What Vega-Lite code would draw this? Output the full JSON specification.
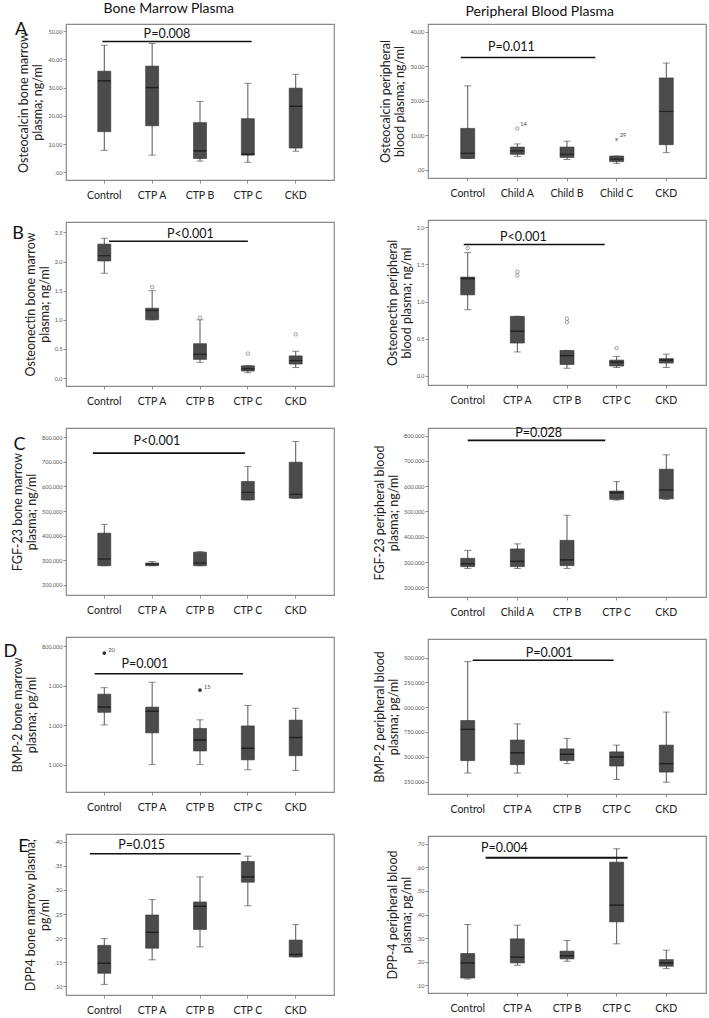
{
"$schema": "https://vega.github.io/schema/vega-lite/v6.json",
"background": "white",
"padding": {"left": 2, "top": 2, "right": 2, "bottom": 2},
"config": {
  "font": "Lato",
  "view": {"stroke": "#8a8a8a", "strokeWidth": 1.2},
  "axis": {"grid": false, "domain": false, "tickSize": 3, "tickColor": "#777", "tickWidth": 0.8, "titleFontWeight": "normal", "titleColor": "#222"},
  "axisX": {"labelFontSize": 10.5, "labelColor": "#222", "labelAngle": 0, "labelPadding": 7},
  "axisY": {"labelFontSize": 5.5, "labelColor": "#555", "labelPadding": 1, "labelOverlap": false, "tickCount": 20, "titleFontSize": 12.5, "titleLineHeight": 14, "titlePadding": 3},
  "title": {"fontWeight": "normal", "color": "#111"}
},
"datasets": {
  "boxes": [
    {"panel":"A1","group":"Control","min":7.8,"q1":14.4,"median":32.4,"q3":35.8,"max":45.0},
    {"panel":"A1","group":"CTP A","min":6.1,"q1":16.5,"median":30.0,"q3":37.6,"max":45.6},
    {"panel":"A1","group":"CTP B","min":4.0,"q1":4.9,"median":7.6,"q3":17.6,"max":25.1},
    {"panel":"A1","group":"CTP C","min":3.6,"q1":6.1,"median":6.4,"q3":19.0,"max":31.5},
    {"panel":"A1","group":"CKD","min":7.5,"q1":8.6,"median":23.4,"q3":29.8,"max":34.7},
    {"panel":"A2","group":"Control","min":3.3,"q1":3.3,"median":4.8,"q3":12.0,"max":24.3},
    {"panel":"A2","group":"Child A","min":3.9,"q1":4.5,"median":5.5,"q3":6.6,"max":7.5},
    {"panel":"A2","group":"Child B","min":3.0,"q1":3.6,"median":4.5,"q3":6.6,"max":8.3},
    {"panel":"A2","group":"Child C","min":1.9,"q1":2.4,"median":3.1,"q3":4.0,"max":4.0},
    {"panel":"A2","group":"CKD","min":5.0,"q1":7.3,"median":16.9,"q3":26.6,"max":30.9},
    {"panel":"B1","group":"Control","min":1.80,"q1":2.01,"median":2.10,"q3":2.30,"max":2.40},
    {"panel":"B1","group":"CTP A","min":1.00,"q1":1.00,"median":1.16,"q3":1.20,"max":1.50},
    {"panel":"B1","group":"CTP B","min":0.27,"q1":0.32,"median":0.41,"q3":0.59,"max":1.00},
    {"panel":"B1","group":"CTP C","min":0.09,"q1":0.12,"median":0.16,"q3":0.21,"max":0.21},
    {"panel":"B1","group":"CKD","min":0.18,"q1":0.24,"median":0.30,"q3":0.38,"max":0.46},
    {"panel":"B2","group":"Control","min":0.89,"q1":1.09,"median":1.31,"q3":1.33,"max":1.66},
    {"panel":"B2","group":"CTP A","min":0.32,"q1":0.44,"median":0.60,"q3":0.80,"max":0.80},
    {"panel":"B2","group":"CTP B","min":0.10,"q1":0.15,"median":0.27,"q3":0.34,"max":0.34},
    {"panel":"B2","group":"CTP C","min":0.11,"q1":0.13,"median":0.18,"q3":0.21,"max":0.26},
    {"panel":"B2","group":"CKD","min":0.11,"q1":0.17,"median":0.21,"q3":0.23,"max":0.29},
    {"panel":"C1","group":"Control","min":278,"q1":278,"median":305,"q3":410,"max":446},
    {"panel":"C1","group":"CTP  A","min":278,"q1":278,"median":284,"q3":289,"max":295},
    {"panel":"C1","group":"CTP B","min":278,"q1":278,"median":289,"q3":333,"max":335},
    {"panel":"C1","group":"CTP C","min":545,"q1":545,"median":576,"q3":620,"max":681},
    {"panel":"C1","group":"CKD","min":552,"q1":552,"median":568,"q3":698,"max":782},
    {"panel":"C2","group":"Control","min":275,"q1":282,"median":293,"q3":315,"max":346},
    {"panel":"C2","group":"Child A","min":275,"q1":282,"median":303,"q3":352,"max":372},
    {"panel":"C2","group":"CTP B","min":275,"q1":286,"median":309,"q3":386,"max":485},
    {"panel":"C2","group":"CTP C","min":545,"q1":548,"median":574,"q3":581,"max":618},
    {"panel":"C2","group":"CKD","min":548,"q1":550,"median":585,"q3":667,"max":724},
    {"panel":"D1","group":"Control","min":1002,"q1":1130,"median":1183,"q3":1314,"max":1380},
    {"panel":"D1","group":"CTP A","min":600,"q1":922,"median":1141,"q3":1183,"max":1436},
    {"panel":"D1","group":"CTP B","min":600,"q1":738,"median":849,"q3":967,"max":1054},
    {"panel":"D1","group":"CTP C","min":548,"q1":648,"median":766,"q3":992,"max":1200},
    {"panel":"D1","group":"CKD","min":541,"q1":690,"median":874,"q3":1051,"max":1172},
    {"panel":"D2","group":"Control","min":335,"q1":461,"median":776,"q3":865,"max":1459},
    {"panel":"D2","group":"CTP A","min":335,"q1":420,"median":539,"q3":668,"max":831},
    {"panel":"D2","group":"CTP B","min":430,"q1":461,"median":525,"q3":579,"max":685},
    {"panel":"D2","group":"CTP C","min":270,"q1":406,"median":498,"q3":549,"max":617},
    {"panel":"D2","group":"CKD","min":243,"q1":345,"median":430,"q3":617,"max":950},
    {"panel":"E1","group":"Control","min":0.104,"q1":0.127,"median":0.148,"q3":0.185,"max":0.199},
    {"panel":"E1","group":"CTP A","min":0.155,"q1":0.179,"median":0.212,"q3":0.248,"max":0.280},
    {"panel":"E1","group":"CTP B","min":0.182,"q1":0.218,"median":0.266,"q3":0.275,"max":0.327},
    {"panel":"E1","group":"CTP C","min":0.267,"q1":0.316,"median":0.327,"q3":0.359,"max":0.370},
    {"panel":"E1","group":"CKD","min":0.161,"q1":0.161,"median":0.166,"q3":0.196,"max":0.228},
    {"panel":"E2","group":"Control","min":0.127,"q1":0.131,"median":0.195,"q3":0.235,"max":0.358},
    {"panel":"E2","group":"CTP A","min":0.185,"q1":0.195,"median":0.219,"q3":0.297,"max":0.355},
    {"panel":"E2","group":"CTP B","min":0.202,"q1":0.212,"median":0.225,"q3":0.245,"max":0.290},
    {"panel":"E2","group":"CTP C","min":0.276,"q1":0.369,"median":0.440,"q3":0.622,"max":0.679},
    {"panel":"E2","group":"CKD","min":0.171,"q1":0.181,"median":0.195,"q3":0.209,"max":0.249}
  ],
  "outliers": [
    {"panel":"A2","group":"Child A","value":12.0,"kind":"outlier","case":"14"},
    {"panel":"A2","group":"Child C","value":8.8,"kind":"extreme","case":"29"},
    {"panel":"B1","group":"CTP A","value":1.56,"kind":"outlier","case":""},
    {"panel":"B1","group":"CTP B","value":1.04,"kind":"outlier","case":""},
    {"panel":"B1","group":"CTP C","value":0.42,"kind":"outlier","case":""},
    {"panel":"B1","group":"CKD","value":0.75,"kind":"outlier","case":""},
    {"panel":"B2","group":"Control","value":1.72,"kind":"outlier","case":""},
    {"panel":"B2","group":"CTP A","value":1.40,"kind":"outlier","case":""},
    {"panel":"B2","group":"CTP A","value":1.35,"kind":"outlier","case":""},
    {"panel":"B2","group":"CTP B","value":0.77,"kind":"outlier","case":""},
    {"panel":"B2","group":"CTP B","value":0.72,"kind":"outlier","case":""},
    {"panel":"B2","group":"CTP C","value":0.37,"kind":"outlier","case":""},
    {"panel":"D1","group":"Control","value":1731,"kind":"outlier","case":"20"},
    {"panel":"D1","group":"CTP B","value":1356,"kind":"outlier","case":"15"}
  ],
  "pvals": [
    {"panel":"A1","start":"Control","end":"CTP C","at":"CTP A","y":46.3,"label":"P=0.008"},
    {"panel":"A2","start":"Control","end":"Child C","at":"Child A","y":32.5,"label":"P=0.011"},
    {"panel":"B1","start":"Control","end":"CTP C","at":"CTP B","y":2.35,"label":"P<0.001"},
    {"panel":"B2","start":"Control","end":"CTP C","at":"CTP A","y":1.77,"label":"P<0.001"},
    {"panel":"C1","start":"Control","end":"CTP C","at":"CTP  A","y":735,"label":"P<0.001"},
    {"panel":"C2","start":"Control","end":"CTP C","at":"Child A","y":781,"label":"P=0.028"},
    {"panel":"D1","start":"Control","end":"CTP C","at":"CTP A","y":1522,"label":"P=0.001"},
    {"panel":"D2","start":"Control","end":"CTP C","at":"CTP B","y":1473,"label":"P=0.001"},
    {"panel":"E1","start":"Control","end":"CTP C","at":"CTP A","y":0.375,"label":"P=0.015"},
    {"panel":"E2","start":"Control","end":"CTP C","at":"CTP A","y":0.641,"label":"P=0.004"}
  ]
},
"spacing": 37,
"hconcat": [
{
  "title": {"text": "Bone Marrow Plasma", "fontSize": 14, "anchor": "middle", "frame": "bounds", "offset": 4},
  "spacing": 19,
  "vconcat": [
    {
      "width": 268, "height": 156,
      "title": {"text": "A", "anchor": "start", "frame": "bounds", "fontSize": 18, "offset": -15, "dx": -3},
      "encoding": {"x": {"field": "group", "type": "nominal", "sort": null, "title": null, "scale": {"domain": ["Control","CTP A","CTP B","CTP C","CKD"], "paddingInner": 0, "paddingOuter": 0.3}}},
      "layer": [
        {"data": {"name": "boxes"}, "transform": [{"filter": "datum.panel == 'A1'"}], "mark": {"type": "rule", "color": "#555"},
         "encoding": {"y": {"field": "min", "type": "quantitative", "title": ["Osteocalcin  bone marrow", "plasma; ng/ml"], "scale": {"domain": [-2.7, 52.5], "nice": false, "zero": false}, "axis": {"values": [0,10,20,30,40,50], "tickCount": 20, "labelOverlap": false, "labelExpr": "datum.value == 0 ? '.00' : format(datum.value, '.2f')"}}, "y2": {"field": "max"}}},
        {"data": {"name": "boxes"}, "transform": [{"filter": "datum.panel == 'A1'"}], "mark": {"type": "tick", "color": "#555", "size": 7, "thickness": 1}, "encoding": {"y": {"field": "min", "type": "quantitative"}}},
        {"data": {"name": "boxes"}, "transform": [{"filter": "datum.panel == 'A1'"}], "mark": {"type": "tick", "color": "#555", "size": 7, "thickness": 1}, "encoding": {"y": {"field": "max", "type": "quantitative"}}},
        {"data": {"name": "boxes"}, "transform": [{"filter": "datum.panel == 'A1'"}], "mark": {"type": "bar", "width": 13, "fill": "#4b4b4b", "stroke": "#333", "strokeWidth": 0.6}, "encoding": {"y": {"field": "q1", "type": "quantitative"}, "y2": {"field": "q3"}}},
        {"data": {"name": "boxes"}, "transform": [{"filter": "datum.panel == 'A1'"}], "mark": {"type": "tick", "color": "#111", "size": 13, "thickness": 1.5}, "encoding": {"y": {"field": "median", "type": "quantitative"}}},
        {"data": {"name": "pvals"}, "transform": [{"filter": "datum.panel == 'A1'"}], "mark": {"type": "rule", "color": "#111", "strokeWidth": 1.6}, "encoding": {"x": {"field": "start", "type": "nominal", "title": null, "bandPosition": 0.46}, "x2": {"field": "end", "bandPosition": 0.58}, "y": {"field": "y", "type": "quantitative"}}},
        {"data": {"name": "pvals"}, "transform": [{"filter": "datum.panel == 'A1'"}], "mark": {"type": "text", "fontSize": 12.5, "baseline": "alphabetic", "dy": -4, "color": "#111"}, "encoding": {"x": {"field": "at", "type": "nominal", "title": null, "bandPosition": 0.81}, "y": {"field": "y", "type": "quantitative"}, "text": {"field": "label"}}}
      ]
    },
    {
      "width": 268, "height": 164,
      "title": {"text": "B", "anchor": "start", "frame": "bounds", "fontSize": 18, "offset": -21, "dx": -12},
      "encoding": {"x": {"field": "group", "type": "nominal", "sort": null, "title": null, "scale": {"domain": ["Control","CTP A","CTP B","CTP C","CKD"], "paddingInner": 0, "paddingOuter": 0.3}}},
      "layer": [
        {"data": {"name": "boxes"}, "transform": [{"filter": "datum.panel == 'B1'"}], "mark": {"type": "rule", "color": "#555"},
         "encoding": {"y": {"field": "min", "type": "quantitative", "title": ["Osteonectin bone marrow", "plasma; ng/ml"], "scale": {"domain": [-0.137, 2.68], "nice": false, "zero": false}, "axis": {"values": [0,0.5,1,1.5,2,2.5], "tickCount": 20, "labelOverlap": false, "labelExpr": "format(datum.value, '.1f')"}}, "y2": {"field": "max"}}},
        {"data": {"name": "boxes"}, "transform": [{"filter": "datum.panel == 'B1'"}], "mark": {"type": "tick", "color": "#555", "size": 7, "thickness": 1}, "encoding": {"y": {"field": "min", "type": "quantitative"}}},
        {"data": {"name": "boxes"}, "transform": [{"filter": "datum.panel == 'B1'"}], "mark": {"type": "tick", "color": "#555", "size": 7, "thickness": 1}, "encoding": {"y": {"field": "max", "type": "quantitative"}}},
        {"data": {"name": "boxes"}, "transform": [{"filter": "datum.panel == 'B1'"}], "mark": {"type": "bar", "width": 13, "fill": "#4b4b4b", "stroke": "#333", "strokeWidth": 0.6}, "encoding": {"y": {"field": "q1", "type": "quantitative"}, "y2": {"field": "q3"}}},
        {"data": {"name": "boxes"}, "transform": [{"filter": "datum.panel == 'B1'"}], "mark": {"type": "tick", "color": "#111", "size": 13, "thickness": 1.2}, "encoding": {"y": {"field": "median", "type": "quantitative"}}},
        {"data": {"name": "outliers"}, "transform": [{"filter": "datum.panel == 'B1'"}], "mark": {"type": "point", "size": 12, "filled": false, "stroke": "#555", "strokeWidth": 0.8}, "encoding": {"y": {"field": "value", "type": "quantitative"}}},
        {"data": {"name": "pvals"}, "transform": [{"filter": "datum.panel == 'B1'"}], "mark": {"type": "rule", "color": "#111", "strokeWidth": 1.6}, "encoding": {"x": {"field": "start", "type": "nominal", "title": null, "bandPosition": 0.6}, "x2": {"field": "end", "bandPosition": 0.5}, "y": {"field": "y", "type": "quantitative"}}},
        {"data": {"name": "pvals"}, "transform": [{"filter": "datum.panel == 'B1'"}], "mark": {"type": "text", "fontSize": 12.5, "baseline": "alphabetic", "dy": -3, "color": "#111"}, "encoding": {"x": {"field": "at", "type": "nominal", "title": null, "bandPosition": 0.3}, "y": {"field": "y", "type": "quantitative"}, "text": {"field": "label"}}}
      ]
    },
    {
      "width": 268, "height": 167,
      "title": {"text": "C", "anchor": "start", "frame": "bounds", "fontSize": 18, "offset": -26, "dx": 2},
      "encoding": {"x": {"field": "group", "type": "nominal", "sort": null, "title": null, "scale": {"domain": ["Control","CTP  A","CTP B","CTP C","CKD"], "paddingInner": 0, "paddingOuter": 0.3}}},
      "layer": [
        {"data": {"name": "boxes"}, "transform": [{"filter": "datum.panel == 'C1'"}], "mark": {"type": "rule", "color": "#555"},
         "encoding": {"y": {"field": "min", "type": "quantitative", "title": ["FGF-23 bone marrow", "plasma; ng/ml"], "scale": {"domain": [159, 837], "nice": false, "zero": false}, "axis": {"values": [200,300,400,500,600,700,800], "tickCount": 20, "labelOverlap": false, "labelExpr": "format(datum.value, '.3f')"}}, "y2": {"field": "max"}}},
        {"data": {"name": "boxes"}, "transform": [{"filter": "datum.panel == 'C1'"}], "mark": {"type": "tick", "color": "#555", "size": 7, "thickness": 1}, "encoding": {"y": {"field": "min", "type": "quantitative"}}},
        {"data": {"name": "boxes"}, "transform": [{"filter": "datum.panel == 'C1'"}], "mark": {"type": "tick", "color": "#555", "size": 7, "thickness": 1}, "encoding": {"y": {"field": "max", "type": "quantitative"}}},
        {"data": {"name": "boxes"}, "transform": [{"filter": "datum.panel == 'C1'"}], "mark": {"type": "bar", "width": 13, "fill": "#4b4b4b", "stroke": "#333", "strokeWidth": 0.6}, "encoding": {"y": {"field": "q1", "type": "quantitative"}, "y2": {"field": "q3"}}},
        {"data": {"name": "boxes"}, "transform": [{"filter": "datum.panel == 'C1'"}], "mark": {"type": "tick", "color": "#111", "size": 13, "thickness": 1.2}, "encoding": {"y": {"field": "median", "type": "quantitative"}}},
        {"data": {"name": "pvals"}, "transform": [{"filter": "datum.panel == 'C1'"}], "mark": {"type": "rule", "color": "#111", "strokeWidth": 1.6}, "encoding": {"x": {"field": "start", "type": "nominal", "title": null, "bandPosition": 0.26}, "x2": {"field": "end", "bandPosition": 0.44}, "y": {"field": "y", "type": "quantitative"}}},
        {"data": {"name": "pvals"}, "transform": [{"filter": "datum.panel == 'C1'"}], "mark": {"type": "text", "fontSize": 12.5, "baseline": "alphabetic", "dy": -8, "color": "#111"}, "encoding": {"x": {"field": "at", "type": "nominal", "title": null, "bandPosition": 0.6}, "y": {"field": "y", "type": "quantitative"}, "text": {"field": "label"}}}
      ]
    },
    {
      "width": 268, "height": 155,
      "title": {"text": "D", "anchor": "start", "frame": "bounds", "fontSize": 18, "offset": -24, "dx": -8},
      "encoding": {"x": {"field": "group", "type": "nominal", "sort": null, "title": null, "scale": {"domain": ["Control","CTP A","CTP B","CTP C","CKD"], "paddingInner": 0, "paddingOuter": 0.3}}},
      "layer": [
        {"data": {"name": "boxes"}, "transform": [{"filter": "datum.panel == 'D1'"}], "mark": {"type": "rule", "color": "#555"},
         "encoding": {"y": {"field": "min", "type": "quantitative", "title": ["BMP-2 bone marrow", "plasma; pg/ml"], "scale": {"domain": [322, 1894], "nice": false, "zero": false}, "axis": {"values": [600,1000,1400,1800], "tickCount": 20, "labelOverlap": false, "labelExpr": "datum.value == 1800 ? '800.000' : '1.000'"}}, "y2": {"field": "max"}}},
        {"data": {"name": "boxes"}, "transform": [{"filter": "datum.panel == 'D1'"}], "mark": {"type": "tick", "color": "#555", "size": 7, "thickness": 1}, "encoding": {"y": {"field": "min", "type": "quantitative"}}},
        {"data": {"name": "boxes"}, "transform": [{"filter": "datum.panel == 'D1'"}], "mark": {"type": "tick", "color": "#555", "size": 7, "thickness": 1}, "encoding": {"y": {"field": "max", "type": "quantitative"}}},
        {"data": {"name": "boxes"}, "transform": [{"filter": "datum.panel == 'D1'"}], "mark": {"type": "bar", "width": 13, "fill": "#4b4b4b", "stroke": "#333", "strokeWidth": 0.6}, "encoding": {"y": {"field": "q1", "type": "quantitative"}, "y2": {"field": "q3"}}},
        {"data": {"name": "boxes"}, "transform": [{"filter": "datum.panel == 'D1'"}], "mark": {"type": "tick", "color": "#111", "size": 13, "thickness": 1.5}, "encoding": {"y": {"field": "median", "type": "quantitative"}}},
        {"data": {"name": "outliers"}, "transform": [{"filter": "datum.panel == 'D1'"}], "mark": {"type": "point", "size": 14, "filled": true, "color": "#333", "opacity": 1}, "encoding": {"y": {"field": "value", "type": "quantitative"}}},
        {"data": {"name": "outliers"}, "transform": [{"filter": "datum.panel == 'D1'"}], "mark": {"type": "text", "fontSize": 5.5, "align": "left", "dx": 4, "dy": -3, "color": "#444"}, "encoding": {"y": {"field": "value", "type": "quantitative"}, "text": {"field": "case"}}},
        {"data": {"name": "pvals"}, "transform": [{"filter": "datum.panel == 'D1'"}], "mark": {"type": "rule", "color": "#111", "strokeWidth": 1.6}, "encoding": {"x": {"field": "start", "type": "nominal", "title": null, "bandPosition": 0.3}, "x2": {"field": "end", "bandPosition": 0.4}, "y": {"field": "y", "type": "quantitative"}}},
        {"data": {"name": "pvals"}, "transform": [{"filter": "datum.panel == 'D1'"}], "mark": {"type": "text", "fontSize": 12.5, "baseline": "alphabetic", "dy": -6, "color": "#111"}, "encoding": {"x": {"field": "at", "type": "nominal", "title": null, "bandPosition": 0.35}, "y": {"field": "y", "type": "quantitative"}, "text": {"field": "label"}}}
      ]
    },
    {
      "width": 268, "height": 161,
      "title": {"text": "E", "anchor": "start", "frame": "bounds", "fontSize": 18, "offset": -22, "dx": -6},
      "encoding": {"x": {"field": "group", "type": "nominal", "sort": null, "title": null, "scale": {"domain": ["Control","CTP A","CTP B","CTP C","CKD"], "paddingInner": 0, "paddingOuter": 0.3}}},
      "layer": [
        {"data": {"name": "boxes"}, "transform": [{"filter": "datum.panel == 'E1'"}], "mark": {"type": "rule", "color": "#555"},
         "encoding": {"y": {"field": "min", "type": "quantitative", "title": ["DPP4  bone marrow plasma;", "pg/ml"], "scale": {"domain": [0.082, 0.416], "nice": false, "zero": false}, "axis": {"values": [0.1,0.15,0.2,0.25,0.3,0.35,0.4], "tickCount": 20, "labelOverlap": false, "labelExpr": "substring(format(datum.value, '.2f'), 1)"}}, "y2": {"field": "max"}}},
        {"data": {"name": "boxes"}, "transform": [{"filter": "datum.panel == 'E1'"}], "mark": {"type": "tick", "color": "#555", "size": 7, "thickness": 1}, "encoding": {"y": {"field": "min", "type": "quantitative"}}},
        {"data": {"name": "boxes"}, "transform": [{"filter": "datum.panel == 'E1'"}], "mark": {"type": "tick", "color": "#555", "size": 7, "thickness": 1}, "encoding": {"y": {"field": "max", "type": "quantitative"}}},
        {"data": {"name": "boxes"}, "transform": [{"filter": "datum.panel == 'E1'"}], "mark": {"type": "bar", "width": 13, "fill": "#4b4b4b", "stroke": "#333", "strokeWidth": 0.6}, "encoding": {"y": {"field": "q1", "type": "quantitative"}, "y2": {"field": "q3"}}},
        {"data": {"name": "boxes"}, "transform": [{"filter": "datum.panel == 'E1'"}], "mark": {"type": "tick", "color": "#111", "size": 13, "thickness": 1.5}, "encoding": {"y": {"field": "median", "type": "quantitative"}}},
        {"data": {"name": "pvals"}, "transform": [{"filter": "datum.panel == 'E1'"}], "mark": {"type": "rule", "color": "#111", "strokeWidth": 1.6}, "encoding": {"x": {"field": "start", "type": "nominal", "title": null, "bandPosition": 0.2}, "x2": {"field": "end", "bandPosition": 0.35}, "y": {"field": "y", "type": "quantitative"}}},
        {"data": {"name": "pvals"}, "transform": [{"filter": "datum.panel == 'E1'"}], "mark": {"type": "text", "fontSize": 12.5, "baseline": "alphabetic", "dy": -5, "color": "#111"}, "encoding": {"x": {"field": "at", "type": "nominal", "title": null, "bandPosition": 0.28}, "y": {"field": "y", "type": "quantitative"}, "text": {"field": "label"}}}
      ]
    }
  ]
},
{
  "title": {"text": "Peripheral Blood Plasma", "fontSize": 14, "anchor": "middle", "frame": "bounds", "offset": 4},
  "spacing": 19,
  "vconcat": [
    {
      "width": 278, "height": 154,
      "encoding": {"x": {"field": "group", "type": "nominal", "sort": null, "title": null, "scale": {"domain": ["Control","Child A","Child B","Child C","CKD"], "paddingInner": 0, "paddingOuter": 0.3}}},
      "layer": [
        {"data": {"name": "boxes"}, "transform": [{"filter": "datum.panel == 'A2'"}], "mark": {"type": "rule", "color": "#555"},
         "encoding": {"y": {"field": "min", "type": "quantitative", "title": ["Osteocalcin  peripheral", "blood  plasma; ng/ml"], "scale": {"domain": [-2.35, 42.2], "nice": false, "zero": false}, "axis": {"values": [0,10,20,30,40], "tickCount": 20, "labelOverlap": false, "labelExpr": "datum.value == 0 ? '.00' : format(datum.value, '.2f')"}}, "y2": {"field": "max"}}},
        {"data": {"name": "boxes"}, "transform": [{"filter": "datum.panel == 'A2'"}], "mark": {"type": "tick", "color": "#555", "size": 7, "thickness": 1}, "encoding": {"y": {"field": "min", "type": "quantitative"}}},
        {"data": {"name": "boxes"}, "transform": [{"filter": "datum.panel == 'A2'"}], "mark": {"type": "tick", "color": "#555", "size": 7, "thickness": 1}, "encoding": {"y": {"field": "max", "type": "quantitative"}}},
        {"data": {"name": "boxes"}, "transform": [{"filter": "datum.panel == 'A2'"}], "mark": {"type": "bar", "width": 14, "fill": "#4b4b4b", "stroke": "#333", "strokeWidth": 0.6}, "encoding": {"y": {"field": "q1", "type": "quantitative"}, "y2": {"field": "q3"}}},
        {"data": {"name": "boxes"}, "transform": [{"filter": "datum.panel == 'A2'"}], "mark": {"type": "tick", "color": "#111", "size": 14, "thickness": 1.2}, "encoding": {"y": {"field": "median", "type": "quantitative"}}},
        {"data": {"name": "outliers"}, "transform": [{"filter": "datum.panel == 'A2'"}], "mark": {"type": "point", "size": 12, "filled": false, "stroke": "#555", "strokeWidth": 0.8}, "encoding": {"y": {"field": "value", "type": "quantitative"}, "shape": {"field": "kind", "type": "nominal", "legend": null, "scale": {"domain": ["outlier", "extreme"], "range": ["circle", "M0,-1L0,1M-0.87,-0.5L0.87,0.5M-0.87,0.5L0.87,-0.5"]}}}},
        {"data": {"name": "outliers"}, "transform": [{"filter": "datum.panel == 'A2'"}], "mark": {"type": "text", "fontSize": 5.5, "align": "left", "dx": 3, "dy": -4, "color": "#444"}, "encoding": {"y": {"field": "value", "type": "quantitative"}, "text": {"field": "case"}}},
        {"data": {"name": "pvals"}, "transform": [{"filter": "datum.panel == 'A2'"}], "mark": {"type": "rule", "color": "#111", "strokeWidth": 1.6}, "encoding": {"x": {"field": "start", "type": "nominal", "title": null, "bandPosition": 0.36}, "x2": {"field": "end", "bandPosition": 0.07}, "y": {"field": "y", "type": "quantitative"}}},
        {"data": {"name": "pvals"}, "transform": [{"filter": "datum.panel == 'A2'"}], "mark": {"type": "text", "fontSize": 12.5, "baseline": "alphabetic", "dy": -7, "color": "#111"}, "encoding": {"x": {"field": "at", "type": "nominal", "title": null, "bandPosition": 0.38}, "y": {"field": "y", "type": "quantitative"}, "text": {"field": "label"}}}
      ]
    },
    {
      "width": 278, "height": 165,
      "encoding": {"x": {"field": "group", "type": "nominal", "sort": null, "title": null, "scale": {"domain": ["Control","CTP A","CTP B","CTP C","CKD"], "paddingInner": 0, "paddingOuter": 0.3}}},
      "layer": [
        {"data": {"name": "boxes"}, "transform": [{"filter": "datum.panel == 'B2'"}], "mark": {"type": "rule", "color": "#555"},
         "encoding": {"y": {"field": "min", "type": "quantitative", "title": ["Osteonectin peripheral", "blood  plasma; ng/ml"], "scale": {"domain": [-0.126, 2.10], "nice": false, "zero": false}, "axis": {"values": [0,0.5,1,1.5,2], "tickCount": 20, "labelOverlap": false, "labelExpr": "format(datum.value, '.1f')"}}, "y2": {"field": "max"}}},
        {"data": {"name": "boxes"}, "transform": [{"filter": "datum.panel == 'B2'"}], "mark": {"type": "tick", "color": "#555", "size": 7, "thickness": 1}, "encoding": {"y": {"field": "min", "type": "quantitative"}}},
        {"data": {"name": "boxes"}, "transform": [{"filter": "datum.panel == 'B2'"}], "mark": {"type": "tick", "color": "#555", "size": 7, "thickness": 1}, "encoding": {"y": {"field": "max", "type": "quantitative"}}},
        {"data": {"name": "boxes"}, "transform": [{"filter": "datum.panel == 'B2'"}], "mark": {"type": "bar", "width": 14, "fill": "#4b4b4b", "stroke": "#333", "strokeWidth": 0.6}, "encoding": {"y": {"field": "q1", "type": "quantitative"}, "y2": {"field": "q3"}}},
        {"data": {"name": "boxes"}, "transform": [{"filter": "datum.panel == 'B2'"}], "mark": {"type": "tick", "color": "#111", "size": 14, "thickness": 1.5}, "encoding": {"y": {"field": "median", "type": "quantitative"}}},
        {"data": {"name": "outliers"}, "transform": [{"filter": "datum.panel == 'B2'"}], "mark": {"type": "point", "size": 12, "filled": false, "stroke": "#555", "strokeWidth": 0.8}, "encoding": {"y": {"field": "value", "type": "quantitative"}}},
        {"data": {"name": "pvals"}, "transform": [{"filter": "datum.panel == 'B2'"}], "mark": {"type": "rule", "color": "#111", "strokeWidth": 1.6}, "encoding": {"x": {"field": "start", "type": "nominal", "title": null, "bandPosition": 0.42}, "x2": {"field": "end", "bandPosition": 0.26}, "y": {"field": "y", "type": "quantitative"}}},
        {"data": {"name": "pvals"}, "transform": [{"filter": "datum.panel == 'B2'"}], "mark": {"type": "text", "fontSize": 12.5, "baseline": "alphabetic", "dy": -3, "color": "#111"}, "encoding": {"x": {"field": "at", "type": "nominal", "title": null, "bandPosition": 0.62}, "y": {"field": "y", "type": "quantitative"}, "text": {"field": "label"}}}
      ]
    },
    {
      "width": 278, "height": 169,
      "encoding": {"x": {"field": "group", "type": "nominal", "sort": null, "title": null, "scale": {"domain": ["Control","Child A","CTP B","CTP C","CKD"], "paddingInner": 0, "paddingOuter": 0.3}}},
      "layer": [
        {"data": {"name": "boxes"}, "transform": [{"filter": "datum.panel == 'C2'"}], "mark": {"type": "rule", "color": "#555"},
         "encoding": {"y": {"field": "min", "type": "quantitative", "title": ["FGF-23  peripheral blood", "plasma; ng/ml"], "scale": {"domain": [162, 830], "nice": false, "zero": false}, "axis": {"values": [200,300,400,500,600,700,800], "tickCount": 20, "labelOverlap": false, "labelExpr": "format(datum.value, '.3f')"}}, "y2": {"field": "max"}}},
        {"data": {"name": "boxes"}, "transform": [{"filter": "datum.panel == 'C2'"}], "mark": {"type": "tick", "color": "#555", "size": 7, "thickness": 1}, "encoding": {"y": {"field": "min", "type": "quantitative"}}},
        {"data": {"name": "boxes"}, "transform": [{"filter": "datum.panel == 'C2'"}], "mark": {"type": "tick", "color": "#555", "size": 7, "thickness": 1}, "encoding": {"y": {"field": "max", "type": "quantitative"}}},
        {"data": {"name": "boxes"}, "transform": [{"filter": "datum.panel == 'C2'"}], "mark": {"type": "bar", "width": 14, "fill": "#4b4b4b", "stroke": "#333", "strokeWidth": 0.6}, "encoding": {"y": {"field": "q1", "type": "quantitative"}, "y2": {"field": "q3"}}},
        {"data": {"name": "boxes"}, "transform": [{"filter": "datum.panel == 'C2'"}], "mark": {"type": "tick", "color": "#111", "size": 14, "thickness": 1.5}, "encoding": {"y": {"field": "median", "type": "quantitative"}}},
        {"data": {"name": "pvals"}, "transform": [{"filter": "datum.panel == 'C2'"}], "mark": {"type": "rule", "color": "#111", "strokeWidth": 1.6}, "encoding": {"x": {"field": "start", "type": "nominal", "title": null, "bandPosition": 0.5}, "x2": {"field": "end", "bandPosition": 0.27}, "y": {"field": "y", "type": "quantitative"}}},
        {"data": {"name": "pvals"}, "transform": [{"filter": "datum.panel == 'C2'"}], "mark": {"type": "text", "fontSize": 12.5, "baseline": "alphabetic", "dy": -3, "color": "#111"}, "encoding": {"x": {"field": "at", "type": "nominal", "title": null, "bandPosition": 0.93}, "y": {"field": "y", "type": "quantitative"}, "text": {"field": "label"}}}
      ]
    },
    {
      "width": 278, "height": 155,
      "encoding": {"x": {"field": "group", "type": "nominal", "sort": null, "title": null, "scale": {"domain": ["Control","CTP A","CTP B","CTP C","CKD"], "paddingInner": 0, "paddingOuter": 0.3}}},
      "layer": [
        {"data": {"name": "boxes"}, "transform": [{"filter": "datum.panel == 'D2'"}], "mark": {"type": "rule", "color": "#555"},
         "encoding": {"y": {"field": "min", "type": "quantitative", "title": ["BMP-2 peripheral blood", "plasma; pg/ml"], "scale": {"domain": [124, 1687], "nice": false, "zero": false}, "axis": {"values": [250,500,750,1000,1250,1500], "tickCount": 20, "labelOverlap": false, "labelExpr": "slice(format(datum.value, ',.3f'), -7)"}}, "y2": {"field": "max"}}},
        {"data": {"name": "boxes"}, "transform": [{"filter": "datum.panel == 'D2'"}], "mark": {"type": "tick", "color": "#555", "size": 7, "thickness": 1}, "encoding": {"y": {"field": "min", "type": "quantitative"}}},
        {"data": {"name": "boxes"}, "transform": [{"filter": "datum.panel == 'D2'"}], "mark": {"type": "tick", "color": "#555", "size": 7, "thickness": 1}, "encoding": {"y": {"field": "max", "type": "quantitative"}}},
        {"data": {"name": "boxes"}, "transform": [{"filter": "datum.panel == 'D2'"}], "mark": {"type": "bar", "width": 14, "fill": "#4b4b4b", "stroke": "#333", "strokeWidth": 0.6}, "encoding": {"y": {"field": "q1", "type": "quantitative"}, "y2": {"field": "q3"}}},
        {"data": {"name": "boxes"}, "transform": [{"filter": "datum.panel == 'D2'"}], "mark": {"type": "tick", "color": "#111", "size": 14, "thickness": 1.5}, "encoding": {"y": {"field": "median", "type": "quantitative"}}},
        {"data": {"name": "pvals"}, "transform": [{"filter": "datum.panel == 'D2'"}], "mark": {"type": "rule", "color": "#111", "strokeWidth": 1.6}, "encoding": {"x": {"field": "start", "type": "nominal", "title": null, "bandPosition": 0.6}, "x2": {"field": "end", "bandPosition": 0.44}, "y": {"field": "y", "type": "quantitative"}}},
        {"data": {"name": "pvals"}, "transform": [{"filter": "datum.panel == 'D2'"}], "mark": {"type": "text", "fontSize": 12.5, "baseline": "alphabetic", "dy": -3, "color": "#111"}, "encoding": {"x": {"field": "at", "type": "nominal", "title": null, "bandPosition": 0.14}, "y": {"field": "y", "type": "quantitative"}, "text": {"field": "label"}}}
      ]
    },
    {
      "width": 278, "height": 157,
      "encoding": {"x": {"field": "group", "type": "nominal", "sort": null, "title": null, "scale": {"domain": ["Control","CTP A","CTP B","CTP C","CKD"], "paddingInner": 0, "paddingOuter": 0.3}}},
      "layer": [
        {"data": {"name": "boxes"}, "transform": [{"filter": "datum.panel == 'E2'"}], "mark": {"type": "rule", "color": "#555"},
         "encoding": {"y": {"field": "min", "type": "quantitative", "title": ["DPP-4 peripheral blood", "plasma; pg/ml"], "scale": {"domain": [0.0675, 0.733], "nice": false, "zero": false}, "axis": {"values": [0.1,0.2,0.3,0.4,0.5,0.6,0.7], "tickCount": 20, "labelOverlap": false, "labelExpr": "substring(format(datum.value, '.2f'), 1)"}}, "y2": {"field": "max"}}},
        {"data": {"name": "boxes"}, "transform": [{"filter": "datum.panel == 'E2'"}], "mark": {"type": "tick", "color": "#555", "size": 7, "thickness": 1}, "encoding": {"y": {"field": "min", "type": "quantitative"}}},
        {"data": {"name": "boxes"}, "transform": [{"filter": "datum.panel == 'E2'"}], "mark": {"type": "tick", "color": "#555", "size": 7, "thickness": 1}, "encoding": {"y": {"field": "max", "type": "quantitative"}}},
        {"data": {"name": "boxes"}, "transform": [{"filter": "datum.panel == 'E2'"}], "mark": {"type": "bar", "width": 14, "fill": "#4b4b4b", "stroke": "#333", "strokeWidth": 0.6}, "encoding": {"y": {"field": "q1", "type": "quantitative"}, "y2": {"field": "q3"}}},
        {"data": {"name": "boxes"}, "transform": [{"filter": "datum.panel == 'E2'"}], "mark": {"type": "tick", "color": "#111", "size": 14, "thickness": 1.5}, "encoding": {"y": {"field": "median", "type": "quantitative"}}},
        {"data": {"name": "pvals"}, "transform": [{"filter": "datum.panel == 'E2'"}], "mark": {"type": "rule", "color": "#111", "strokeWidth": 2}, "encoding": {"x": {"field": "start", "type": "nominal", "title": null, "bandPosition": 0.86}, "x2": {"field": "end", "bandPosition": 0.72}, "y": {"field": "y", "type": "quantitative"}}},
        {"data": {"name": "pvals"}, "transform": [{"filter": "datum.panel == 'E2'"}], "mark": {"type": "text", "fontSize": 12.5, "baseline": "alphabetic", "dy": -6, "color": "#111"}, "encoding": {"x": {"field": "at", "type": "nominal", "title": null, "bandPosition": 0.24}, "y": {"field": "y", "type": "quantitative"}, "text": {"field": "label"}}}
      ]
    }
  ]
}
]
}
